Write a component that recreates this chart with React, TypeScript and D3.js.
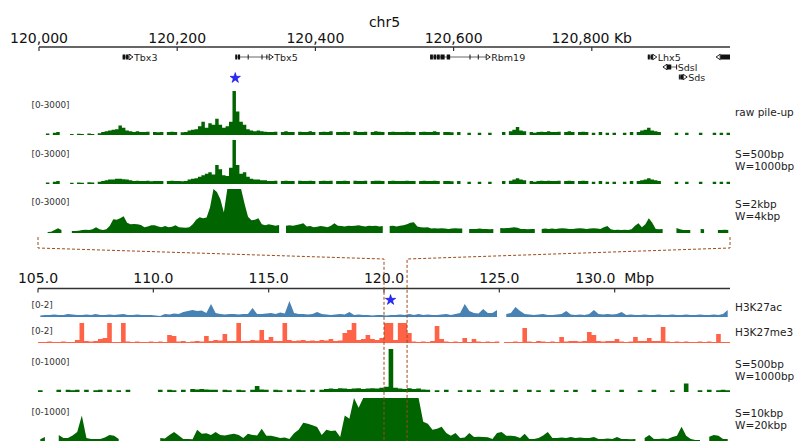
import React, { useEffect, useRef } from "react";
import * as d3 from "d3";

const FONT = "DejaVu Sans, Liberation Sans, sans-serif";

// ---- top panel: chr5 120,000 - 121,000 Kb, 5 Kb bins ----
const topStartKb = 120000;
const topEndKb = 121000;
const topBinKb = 5;
const topTicks = [120000, 120200, 120400, 120600, 120800];
const topTickLabels = ["120,000", "120,200", "120,400", "120,600", "120,800 Kb"];

const rawPileup = [
  null, null, 100, null, 150, 200, null, null, null, 60,
  null, 80, 60, null, 100, 60, null, 120, 200, 250,
  300, 350, 400, 650, 500, 300, 250, 200, 250, 200,
  200, 220, null, 200, 180, 200, null, 200, 220, 200,
  null, 180, 200, 300, 350, 400, 600, 900, 500, 800,
  700, 1100, 700, 500, 600, 900, 3000, 1600, 900, 700,
  400, 300, 250, 300, 250, 220, 200, 200, 220, null,
  200, 250, 200, 200, null, 220, 200, 200, 250, 200,
  null, 200, 220, 200, 250, null, 200, 200, 220, 200,
  null, 250, 200, 200, 220, null, 200, 250, 220, 200,
  null, 200, 220, 200, 200, 200, 220, 200, 200, null,
  200, 220, 200, 200, 250, 200, null, 200, 200, 180,
  null, 200, null, null, 150, null, null, 150, null, null,
  150, null, null, null, 200, null, 250, 350, 550, 300,
  250, null, 200, 150, 200, 220, 200, 250, 200, 200,
  220, null, 200, 250, 200, null, 200, 220, 200, null,
  150, null, 200, null, 150, null, 150, null, null, 150,
  null, 200, null, 200, 300, 350, 500, 300, 250, 200,
  null, null, null, null, 150, null, null, 150, null, null,
  null, 150, null, null, null, 150, null, 150, null, 150,
];

const smooth500Top = [
  null, null, 100, null, 150, 200, null, null, null, 80,
  null, 100, 80, null, 120, 100, null, 150, 200, 250,
  300, 300, 350, 350, 330, 300, 250, 200, 220, 200,
  200, 220, 180, 200, 200, 200, null, 200, 220, 200,
  200, 180, 200, 300, 350, 400, 500, 600, 700, 800,
  650, 1300, 1000, 600, 550, 1100, 3000, 1300, 700, 800,
  500, 350, 300, 300, 250, 250, 200, 200, 220, null,
  200, 220, 200, 200, null, 220, 200, 200, 220, 200,
  null, 200, 220, 200, 220, null, 200, 200, 220, 200,
  null, 220, 200, 200, 220, null, 200, 220, 220, 200,
  null, 200, 220, 200, 200, 200, 220, 200, 200, null,
  200, 220, 200, 200, 220, 200, null, 200, 200, 180,
  null, 200, null, null, 150, null, null, 150, null, null,
  150, null, null, null, 200, null, 220, 300, 400, 300,
  250, null, 200, 150, 200, 220, 200, 220, 200, 200,
  220, null, 200, 220, 200, null, 200, 220, 200, null,
  150, null, 200, null, 150, null, 150, null, null, 150,
  null, 200, null, 200, 250, 300, 400, 300, 250, 200,
  null, null, null, null, 150, null, null, 150, null, null,
  null, 150, null, null, null, 150, null, 150, null, 150,
];

const smooth2k = [
  null, null, 60, 80, 200, 330, 200, null, null, 134,
  134, 150, 200, 220, 200, 250, 400, 250, 200, 250,
  500, 940, 900, 1000, 1140, 700, 600, 620, 600, 550,
  400, 450, 535, 520, 450, 400, 470, 400, 420, 535,
  400, 380, 350, 400, 600, 900, 1070, 1000, 1050, 1740,
  3000, 2800, 2300, 1400, 3000, 3000, 3000, 3000, 3000, 2000,
  1100, 870, 900, 1000, 600, 535, 600, 550, 500, 550,
  null, 500, 535, 500, 550, 600, 670, 450, 470, 400,
  420, 470, 450, 400, 500, 670, 500, 470, 450, 500,
  470, 500, 535, 470, 450, 500, 470, 500, 450, 470,
  null, 470, 500, 450, 500, 520, 600, 700, 740, 450,
  400, 380, 400, 300, 330, 300, 320, 300, 280, 300,
  330, 300, 300, null, 270, 280, 270, 300, 270, 280,
  250, 270, null, 335, 320, 335, 350, 400, 350, 280,
  270, 260, 280, 270, null, 270, 300, 280, 300, 270,
  300, 330, 300, 270, 280, 300, 320, 300, 280, 300,
  320, 300, 280, 400, 470, 250, 200, 220, 200, 230,
  200, 250, 500, 670, 400, 600, 1000, 700, 270, 260,
  270, null, null, null, 335, 250, 200, 200, 200, null,
  null, 270, 250, null, null, null, 200, 200, 220, 200,
];

// genes (Kb)
const geneNames = ["Tbx3", "Tbx5", "Rbm19", "Lhx5", "Sdsl", "Sds", ""];
const geneStartKb = [120121, 120284, 120566, 120881, 120903, 120926, 120980];
const geneEndKb = [120136, 120339, 120653, 120894, 120923, 120938, 121000];
const geneStrand = ["+", "+", "+", "+", "-", "+", "-"];
const geneRow = [0, 0, 0, 0, 1, 2, 0];
const geneExons = [
  [[120121, 120125], [120126, 120129], [120130, 120133]],
  [[120284, 120287], [120288, 120291], [120302, 120303], [120322, 120323], [120329, 120330]],
  [[120566, 120570], [120571, 120575], [120576, 120580], [120581, 120587], [120590, 120595], [120623, 120624], [120635, 120636]],
  [[120881, 120884], [120885, 120889]],
  [[120908, 120915], [120922, 120923]],
  [[120926, 120927], [120928, 120933]],
  [[120986, 121000]],
];

// ---- bottom panel: 105 - 135 Mbp, 0.2 Mbp bins ----
const botStartMb = 105;
const botEndMb = 135;
const botBinMb = 0.2;
const botTicks = [105, 110, 115, 120, 125, 130];
const botTickLabels = ["105.0", "110.0", "115.0", "120.0", "125.0", "130.0  Mbp"];

const h3k27ac = [
  0.15, 0.2, 0.2, 0.25, 0.2, 0.2, 0.3, 0.25, 0.2, 0.2,
  0.25, 0.2, 0.3, 0.2, 0.2, 0.25, 0.2, 0.25, 0.3, 0.2,
  0.2, 0.25, 0.2, 0.2, 0.2, 0.15, 0.1, 0.3, 0.25, 0.35,
  0.3, 0.5, 0.6, 0.7, 0.6, 0.65, 0.4, 1.3, 0.4, 0.3,
  0.25, 0.3, 0.3, 0.25, 0.3, 0.3, 0.9, 0.3, 0.3, 0.35,
  0.4, 0.3, 0.45, 0.35, 1.6, 0.4, 0.3, 0.3, 0.25, 0.3,
  0.5, 0.3, 0.25, 0.2, 0.25, 0.3, 0.25, 0.5, 0.2, 0.25,
  0.2, 0.2, 0.15, 0.2, 0.2, 0.15, 0.2, 0.2, 0.25, 0.2,
  0.3, 0.2, 0.3, 0.2, 0.25, 0.2, 0.2, 0.25, 0.3, 0.2,
  0.3, 0.4, 1.3, 0.6, 0.4, 0.35, 0.8, 0.4, 0.4, 0.7,
  null, 0.3, 0.4, 1.0, 0.6, 0.3, 0.25, 0.2, 0.25, 0.3,
  0.2, 0.2, 0.25, 0.3, 0.6, 0.25, 0.2, 0.25, 0.2, 0.3,
  0.7, 0.3, 0.25, 0.3, 0.25, 0.3, 0.5, 0.2, 0.25, 0.2,
  0.2, 0.25, 0.2, 0.2, 0.25, 0.2, 0.2, 0.25, 0.2, 0.2,
  0.25, 0.2, 0.2, 0.25, 0.2, 0.2, 0.25, 0.2, 0.3, 0.7,
];

const h3k27me3 = [
  0.1, 0.1, 0.15, 0.1, 0.1, 0.15, 0.1, 0.1, 0.3, 2.5,
  0.2, 0.15, 0.2, 0.4, 0.5, 2.5, 0.1, 0.1, 2.5, 0.15,
  0.1, 0.15, 0.1, 0.1, 0.15, 0.1, 0.15, 0.1, 0.8, 0.7,
  0.15, 0.2, 0.1, 0.15, 0.2, 0.15, 0.7, 0.2, 0.3, 0.25,
  0.9, 0.2, 0.2, 2.5, 0.2, 0.2, 0.3, 0.25, 1.3, 0.3,
  0.6, 0.2, 0.2, 2.5, 0.3, 0.2, 0.25, 0.3, 0.2, 0.25,
  0.2, 0.3, 0.25, 0.4, 0.2, 0.25, 1.0, 1.3, 2.5, 0.3,
  0.4, 0.8, 0.4, 0.3, 0.5, 2.5, 2.5, 0.3, 2.5, 2.5,
  1.0, 0.15, 0.1, 0.15, 0.1, 0.2, 1.7, 0.4, 0.15, 0.1,
  0.15, 0.1, 0.5, 0.1, 0.4, 0.15, 0.1, 0.15, 0.1, 0.15,
  null, 0.1, 0.1, 0.15, 0.1, 1.5, 0.15, 0.1, 0.2, 0.15,
  0.1, 0.15, 0.1, 0.6, 0.15, 0.2, 0.2, 0.15, 0.2, 1.1,
  0.8, 0.2, 0.15, 0.2, 0.2, 0.4, 0.15, 0.1, 0.15, 0.6,
  0.2, 0.2, 0.5, 0.2, 0.2, 1.6, 0.15, 0.1, 0.15, 0.1,
  0.15, 0.1, 0.1, 0.15, 0.1, 0.15, 0.1, 0.9, 0.1, 0.1,
];

const smooth500Bot = [
  40, null, null, null, 50, null, 50, 40, 50, null,
  50, null, 40, 50, null, 50, null, 40, null, 50,
  null, null, null, null, null, null, 50, null, 50, 40,
  null, 50, null, 70, 60, 70, 60, 50, 50, null,
  50, 40, null, 50, 40, null, 50, 140, 60, 50,
  null, 50, 40, null, 50, null, 50, 40, null, 50,
  null, 50, 70, 80, 70, 90, 80, 70, 80, 90,
  70, 80, 90, 80, 100, 120, 1200, 100, 80, 70,
  90, 70, 80, 60, 50, null, 40, null, 50, null,
  null, 40, null, 50, null, 40, null, null, 50, null,
  40, null, null, 50, null, null, 50, null, 40, null,
  null, 50, null, null, 40, null, 50, null, null, null,
  50, null, null, 40, null, null, 50, null, null, null,
  40, null, null, 50, null, null, null, 40, null, null,
  200, null, null, 40, null, 50, null, 40, 50, 40,
];

const smooth10k = [
  60, 115, null, null, 160, 92, 92, 150, 230, 600,
  92, 70, 70, 70, 100, 160, 140, 70, null, 50,
  null, null, null, null, null, null, 92, 80, 160, 230,
  150, 70, 70, 60, 276, 185, 200, 160, 230, 160,
  150, 170, 185, 160, 92, 185, 160, 150, 300, 140,
  140, 120, 92, 100, 70, 200, 276, 437, 414, 380,
  340, 160, 276, 250, 260, 115, 600, 530, 1200, 780,
  1200, 1200, 1200, 1200, 1200, 1200, 1200, 1200, 1200, 1200,
  1200, 1200, 1200, 460, 414, 276, 300, 345, 207, 140,
  207, 92, 100, 207, 115, 120, 115, 110, 70, 207,
  230, 140, 140, 130, 92, 185, 70, 70, 92, 150,
  230, 92, 92, 100, 92, 115, 92, 100, 92, 92,
  115, 70, 70, 80, 70, 115, 70, 70, 60, 70,
  null, 92, 160, 70, 70, 80, 70, 115, 140, 345,
  140, 70, 46, 46, null, 120, 160, 140, 70, 70,
];

const starKb = 120284;
const starMb = 120.284;
const zoomStartMb = 120;
const zoomEndMb = 121;

const App = () => {
  const chartRef = useRef<HTMLDivElement>(null);

  useEffect(() => {
    const width = 794;
    const height = 441;

    d3.select(chartRef.current).select("svg").remove();

    const svg = d3
      .select(chartRef.current)
      .append("svg")
      .attr("width", width)
      .attr("height", height)
      .style("position", "absolute")
      .style("left", "0px")
      .style("top", "0px")
      .style("font-family", FONT);

    const xTop = d3.scaleLinear().domain([topStartKb, topEndKb]).range([39, 730]);
    const xBot = d3.scaleLinear().domain([botStartMb, botEndMb]).range([38, 730]);

    // title
    svg.append("text")
      .attr("x", (xTop.range()[0] + xTop.range()[1]) / 2)
      .attr("y", 27)
      .attr("text-anchor", "middle")
      .attr("font-size", 14)
      .attr("fill", "#111")
      .text("chr5");

    const drawAxis = (x: any, ticks: number[], labels: string[], y: number, labelY: number) => {
      const g = svg.append("g");
      g.append("line")
        .attr("x1", x.range()[0]).attr("x2", x.range()[1])
        .attr("y1", y).attr("y2", y)
        .attr("stroke", "#333").attr("stroke-width", 1.5);
      ticks.forEach((t, i) => {
        g.append("line")
          .attr("x1", x(t)).attr("x2", x(t))
          .attr("y1", y).attr("y2", y + 4)
          .attr("stroke", "#333").attr("stroke-width", 1.2);
        g.append("text")
          .attr("x", x(t)).attr("y", labelY)
          .attr("text-anchor", "middle")
          .attr("font-size", 14)
          .attr("fill", "#111")
          .style("white-space", "pre")
          .text(labels[i]);
      });
    };

    drawAxis(xTop, topTicks, topTickLabels, 47, 42.5);
    drawAxis(xBot, botTicks, botTickLabels, 288.5, 282.5);

    // genes
    geneNames.forEach((name, i) => {
      const yy = 57 + geneRow[i] * 10;
      const g = svg.append("g");
      g.append("line")
        .attr("x1", xTop(geneStartKb[i])).attr("x2", xTop(geneEndKb[i]))
        .attr("y1", yy).attr("y2", yy)
        .attr("stroke", "#666").attr("stroke-width", 1);
      geneExons[i].forEach(([s, e]) => {
        g.append("rect")
          .attr("x", xTop(s)).attr("y", yy - 2.5)
          .attr("width", Math.max(1, xTop(e) - xTop(s))).attr("height", 5)
          .attr("fill", "#111");
      });
      const tip = geneStrand[i] === "+" ? xTop(geneEndKb[i]) : xTop(geneStartKb[i]);
      const back = geneStrand[i] === "+" ? tip - 4 : tip + 4;
      g.append("path")
        .attr("d", `M${back},${yy - 2.8}L${tip},${yy}L${back},${yy + 2.8}Z`)
        .attr("fill", "#fff").attr("stroke", "#111").attr("stroke-width", 0.9);
      if (name) {
        g.append("text")
          .attr("x", xTop(geneEndKb[i]) + 1).attr("y", yy + 3.5)
          .attr("font-size", 9.5).attr("fill", "#222")
          .text(name);
      }
    });

    const drawTrack = (
      values: (number | null)[], x: any, start: number, step: number,
      top: number, base: number, max: number, color: string, stepped: boolean,
    ) => {
      const y = d3.scaleLinear().domain([0, max]).range([base, top]).clamp(true);
      const pts: [number, number | null][] = stepped
        ? values.flatMap((v, i) => [[start + i * step, v], [start + (i + 1) * step, v]] as [number, number | null][])
        : values.map((v, i) => [start + (i + 0.5) * step, v] as [number, number | null]);
      const area = d3.area<[number, number | null]>()
        .defined((d) => d[1] != null)
        .x((d) => x(d[0]))
        .y0(base)
        .y1((d) => y(d[1] as number));
      svg.append("path").datum(pts).attr("fill", color).attr("d", area as any);
    };

    const label = (txt: string, yb: number) => {
      svg.append("text").attr("x", 31.5).attr("y", yb)
        .attr("font-size", 8.8).attr("fill", "#333").text(txt);
    };
    const name = (lines: string[], yb: number) => {
      lines.forEach((l, i) => {
        svg.append("text").attr("x", 735).attr("y", yb + i * 12)
          .attr("font-size", 10.5).attr("fill", "#222").text(l);
      });
    };

    const green = "#006400";

    drawTrack(rawPileup, xTop, topStartKb, topBinKb, 91, 135, 3000, green, true);
    label("[0-3000]", 107.5);
    name(["raw pile-up"], 115.5);

    drawTrack(smooth500Top, xTop, topStartKb, topBinKb, 140, 184, 3000, green, true);
    label("[0-3000]", 156.5);
    name(["S=500bp", "W=1000bp"], 158);

    drawTrack(smooth2k, xTop, topStartKb, topBinKb, 189, 233, 3000, green, false);
    label("[0-3000]", 205);
    name(["S=2kbp", "W=4kbp"], 208);

    drawTrack(h3k27ac, xBot, botStartMb, botBinMb, 297, 317, 2, "#4682b4", false);
    label("[0-2]", 308);
    name(["H3K27ac"], 311);

    drawTrack(h3k27me3, xBot, botStartMb, botBinMb, 323, 343, 2, "#ff6347", true);
    label("[0-2]", 334);
    name(["H3K27me3"], 336);

    drawTrack(smooth500Bot, xBot, botStartMb, botBinMb, 349, 392, 1000, green, true);
    label("[0-1000]", 365);
    name(["S=500bp", "W=1000bp"], 368);

    drawTrack(smooth10k, xBot, botStartMb, botBinMb, 398, 442, 1000, green, false);
    label("[0-1000]", 415);
    name(["S=10kbp", "W=20kbp"], 417);

    // zoom connectors
    const conn = svg.append("g")
      .attr("fill", "none").attr("stroke", "#9c4a1a")
      .attr("stroke-width", 1).attr("stroke-dasharray", "3,2");
    const lx = xTop(topStartKb) - 1;
    const rx = xTop(topEndKb);
    conn.append("path")
      .attr("d", `M${lx},237L${lx},248L${xBot(zoomStartMb)},259L${xBot(zoomStartMb)},${height}`);
    conn.append("path")
      .attr("d", `M${rx},237L${rx},248L${xBot(zoomEndMb)},259L${xBot(zoomEndMb)},${height}`);

    // stars
    const star = d3.symbol().type(d3.symbolStar).size(34);
    svg.append("path")
      .attr("d", star() as string)
      .attr("transform", `translate(${xTop(starKb)},78)`)
      .attr("fill", "#2a2aff").attr("stroke", "#0000cc").attr("stroke-width", 0.5);
    svg.append("path")
      .attr("d", star() as string)
      .attr("transform", `translate(${xBot(starMb)},300)`)
      .attr("fill", "#2a2aff").attr("stroke", "#0000cc").attr("stroke-width", 0.5);
  }, []);

  return <div ref={chartRef}></div>;
};

export default App;
